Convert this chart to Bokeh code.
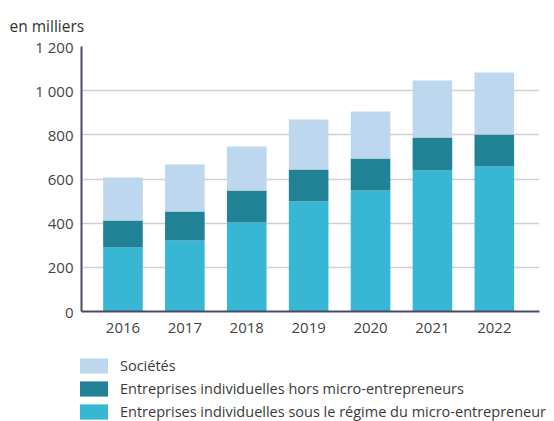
from bokeh.plotting import figure
from bokeh.models import Range1d, FixedTicker, Legend, LegendItem, Title
from bokeh.embed import file_html
from bokeh.resources import INLINE

years = [2016, 2017, 2018, 2019, 2020, 2021, 2022]
micro = [290, 322, 403, 498, 548, 639, 657]
hors_micro = [122, 131, 145, 145, 145, 149, 145]
societes = [195, 213, 199, 227, 213, 258, 280]
y_ticks = [0, 200, 400, 600, 800, 1000, 1200]
series_names = ["Entreprises individuelles sous le régime du micro-entrepreneur",
                "Entreprises individuelles hors micro-entrepreneurs",
                "Sociétés"]
colors = ["#38B7D5", "#218296", "#BDD7EE"]

data = dict(year=years, micro=micro, hors=hors_micro, soc=societes)

FONT = "Open Sans"

p = figure(width=554, height=346, output_backend="svg", toolbar_location=None,
           x_range=Range1d(2015.33, 2022.73), y_range=Range1d(0, 1200),
           min_border_left=81, min_border_right=15, min_border_top=46,
           min_border_bottom=35)

renderers = p.vbar_stack(["micro", "hors", "soc"], x="year", width=0.64,
                         color=colors, source=data, line_width=0)

p.title = Title(text="en milliers", align="left", offset=-72,
                text_font=FONT, text_font_size="15.5px", text_font_style="normal",
                text_color="#333333", standoff=19)

p.xaxis.ticker = FixedTicker(ticks=years)
p.yaxis.ticker = FixedTicker(ticks=y_ticks)
p.yaxis.major_label_overrides = {t: f"{t:,}".replace(",", " ") for t in y_ticks}

for ax in (p.xaxis[0], p.yaxis[0]):
    ax.major_tick_line_color = None
    ax.minor_tick_line_color = None
    ax.major_tick_out = 0
    ax.major_tick_in = 0
    ax.axis_line_color = "#4A4A66"
    ax.axis_line_width = 2
    ax.major_label_text_font = FONT
    ax.major_label_text_font_size = "15px"
    ax.major_label_text_color = "#444444"
p.xaxis[0].major_label_standoff = 11
p.yaxis[0].major_label_standoff = 8

p.xgrid.grid_line_color = None
p.ygrid.grid_line_color = "#D0D0D0"
p.ygrid.grid_line_width = 1.5
p.outline_line_color = None

# Legend panel (separate root under the chart); its bars lie outside its visible ranges
lg = figure(width=554, height=75, output_backend="svg", toolbar_location=None,
            x_axis_type=None, y_axis_type=None,
            x_range=Range1d(0, 1), y_range=Range1d(-2, -1),
            min_border_left=0, min_border_right=0, min_border_top=0, min_border_bottom=0)
lg.grid.visible = False
lg.outline_line_color = None
lg_rends = lg.vbar_stack(["micro", "hors", "soc"], x="year", width=0.64,
                         color=colors, source=data, line_width=0)

items = [LegendItem(label=series_names[i], renderers=[lg_rends[i]]) for i in (2, 1, 0)]
legend = Legend(items=items, location=(76, 0), orientation="vertical",
                glyph_width=35, glyph_height=19, label_height=19, spacing=4,
                label_standoff=9, padding=0, margin=0,
                label_text_font=FONT, label_text_font_size="14.5px",
                label_text_color="#3A3A3A", border_line_color=None,
                background_fill_alpha=0)
lg.add_layout(legend, "center")

open("out.html", "w").write(file_html([p, lg], INLINE))
